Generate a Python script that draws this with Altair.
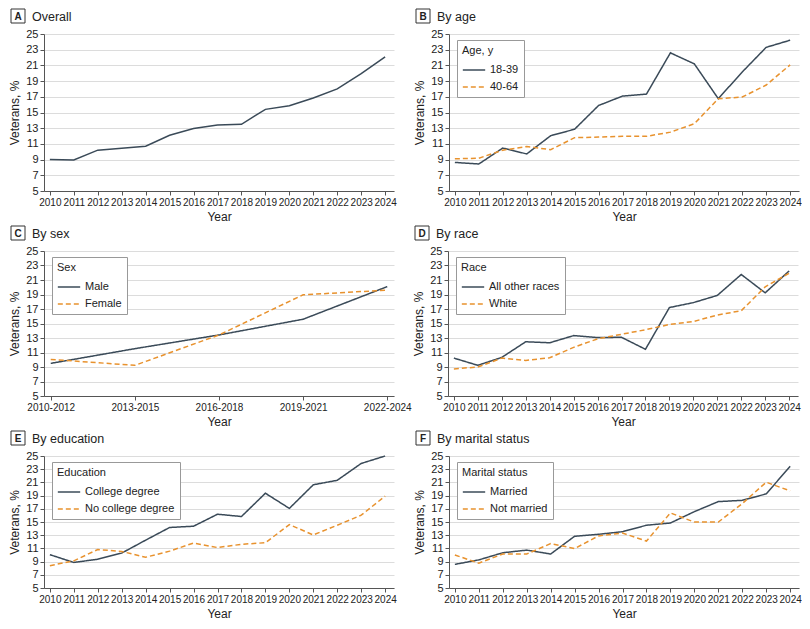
import altair as alt
import pandas as pd

years = [2010, 2011, 2012, 2013, 2014, 2015, 2016, 2017, 2018, 2019, 2020, 2021, 2022, 2023, 2024]
y_ticks = [5, 7, 9, 11, 13, 15, 17, 19, 21, 23, 25]

overall = [9.0, 8.95, 10.2, 10.45, 10.7, 12.1, 12.95, 13.4, 13.5, 15.4, 15.85, 16.85, 18.0, 19.95, 22.1]

age_names = ["18-39", "40-64"]
age_18_39 = [8.64, 8.44, 10.47, 9.72, 12.04, 12.87, 15.89, 17.09, 17.34, 22.6, 21.19, 16.76, 20.16, 23.3, 24.21]
age_40_64 = [9.1, 9.18, 10.2, 10.67, 10.26, 11.79, 11.87, 11.96, 11.96, 12.5, 13.57, 16.76, 16.97, 18.5, 21.07]

sex_periods = ["2010-2012", "2013-2015", "2016-2018", "2019-2021", "2022-2024"]
sex_names = ["Male", "Female"]
male = [9.5, 11.53, 13.42, 15.59, 20.09]
female = [10.05, 9.23, 13.42, 18.96, 19.6]

race_names = ["All other races", "White"]
race_other = [10.23, 9.23, 10.32, 12.48, 12.34, 13.33, 13.06, 13.1, 11.44, 17.2, 17.88, 18.87, 21.76, 19.23, 22.25]
race_white = [8.74, 9.0, 10.23, 9.91, 10.27, 11.71, 12.88, 13.51, 14.14, 14.86, 15.27, 16.17, 16.76, 20.05, 21.94]

edu_names = ["College degree", "No college degree"]
edu_college = [10.05, 8.87, 9.36, 10.29, 12.25, 14.17, 14.36, 16.18, 15.83, 19.36, 17.06, 20.64, 21.32, 23.87, 25.0]
edu_nocollege = [8.38, 9.12, 10.83, 10.54, 9.66, 10.59, 11.81, 11.13, 11.62, 11.86, 14.61, 13.04, 14.51, 16.03, 18.92]

mar_names = ["Married", "Not married"]
married = [8.58, 9.26, 10.34, 10.74, 10.15, 12.84, 13.14, 13.53, 14.51, 14.85, 16.57, 18.09, 18.28, 19.26, 23.43]
not_married = [10.0, 8.77, 10.15, 10.15, 11.72, 10.98, 12.89, 13.33, 12.11, 16.37, 14.99, 14.99, 17.79, 21.03, 19.71]

DARK = "#3a4a58"
ORANGE = "#e8922e"
FONT = "Liberation Sans, Arial, sans-serif"
W = 350


def long_df(xs, series):
    rows = []
    for name, vals in series:
        for x, v in zip(xs, vals):
            rows.append({"x": x, "value": v, "group": name})
    return pd.DataFrame(rows)


def decorations(letter, label):
    d = pd.DataFrame({"letter": [letter], "label": [label]})
    base = alt.Chart(d)
    box = base.mark_rect(fill="white", stroke="#333", strokeWidth=1).encode(
        x=alt.value(-33), x2=alt.value(-19), y=alt.value(-25), y2=alt.value(-11))
    let = base.mark_text(font=FONT, fontSize=10, fontWeight="bold", color="#222").encode(
        x=alt.value(-26), y=alt.value(-17.5), text="letter:N")
    lab = base.mark_text(font=FONT, fontSize=12.5, align="left", color="#222").encode(
        x=alt.value(-12), y=alt.value(-17.5), text="label:N")
    return [box, let, lab]


def y_enc():
    return alt.Y("value:Q",
                 scale=alt.Scale(domain=[5, 25], nice=False, zero=False),
                 axis=alt.Axis(values=y_ticks, title="Veterans, %", grid=True))


def x_year():
    return alt.X("x:Q",
                 scale=alt.Scale(domain=[2009.755, 2024.37], nice=False, zero=False),
                 axis=alt.Axis(values=years, format="d", title="Year", grid=False,
                               labelFlush=False, labelOverlap=False))


def legend(title):
    return alt.Legend(title=title, orient="none", legendX=8, legendY=6,
                      strokeColor="#999", fillColor="white", padding=5,
                      titleFont=FONT, titleFontWeight="normal", titleFontSize=11,
                      titleColor="#222", titlePadding=2, labelFont=FONT, labelFontSize=11,
                      labelColor="#222", symbolType="M-1,0H1", symbolSize=500,
                      symbolStrokeWidth=1.6, rowPadding=0, labelOffset=4)


def two_series(df, names, title, xenc, letter, label, height):
    lines = alt.Chart(df).mark_line(strokeWidth=1.5).encode(
        x=xenc,
        y=y_enc(),
        color=alt.Color("group:N", scale=alt.Scale(domain=names, range=[DARK, ORANGE]),
                        legend=legend(title), sort=names),
        strokeDash=alt.StrokeDash("group:N", scale=alt.Scale(domain=names, range=[[1, 0], [5, 3]]),
                                  legend=legend(title), sort=names),
    )
    return alt.layer(lines, *decorations(letter, label)).properties(width=W, height=height)


H1, H2, H3 = 157, 145, 132

df_a = long_df(years, [("Overall", overall)])
panel_a = alt.layer(
    alt.Chart(df_a).mark_line(strokeWidth=1.5, color=DARK).encode(x=x_year(), y=y_enc()),
    *decorations("A", "Overall")
).properties(width=W, height=H1)

panel_b = two_series(long_df(years, [(age_names[0], age_18_39), (age_names[1], age_40_64)]),
                     age_names, "Age, y", x_year(), "B", "By age", H1)

x_sex = alt.X("x:N", sort=sex_periods,
              scale=alt.Scale(type="point", padding=0.08),
              axis=alt.Axis(title="Year", labelAngle=0, grid=False, labelOverlap=False))
panel_c = two_series(long_df(sex_periods, [(sex_names[0], male), (sex_names[1], female)]),
                     sex_names, "Sex", x_sex, "C", "By sex", H2)

panel_d = two_series(long_df(years, [(race_names[0], race_other), (race_names[1], race_white)]),
                     race_names, "Race", x_year(), "D", "By race", H2)

panel_e = two_series(long_df(years, [(edu_names[0], edu_college), (edu_names[1], edu_nocollege)]),
                     edu_names, "Education", x_year(), "E", "By education", H3)

panel_f = two_series(long_df(years, [(mar_names[0], married), (mar_names[1], not_married)]),
                     mar_names, "Marital status", x_year(), "F", "By marital status", H3)


def indep(c):
    return c.resolve_scale(color="independent", strokeDash="independent", x="independent",
                           y="independent").resolve_legend(color="independent", strokeDash="independent")


row1 = indep(alt.hconcat(panel_a, panel_b, spacing=16))
row2 = indep(alt.hconcat(panel_c, panel_d, spacing=0))
row3 = indep(alt.hconcat(panel_e, panel_f, spacing=16))

chart = indep(alt.vconcat(row1, row2, row3, spacing=3)).properties(
    padding=0, background="white"
).configure_view(stroke=None).configure_axis(
    labelFont=FONT, titleFont=FONT, labelFontSize=10, titleFontSize=12,
    titleFontWeight="normal", labelColor="#222", titleColor="#222",
    domainColor="#555", tickColor="#555", tickSize=4, gridColor="#dcdcdc",
    labelPadding=2
).configure_axisY(titlePadding=4, labelFontSize=11).configure_axisX(titlePadding=4)

chart.save("out.html", embed_options={"renderer": "svg", "actions": False})
